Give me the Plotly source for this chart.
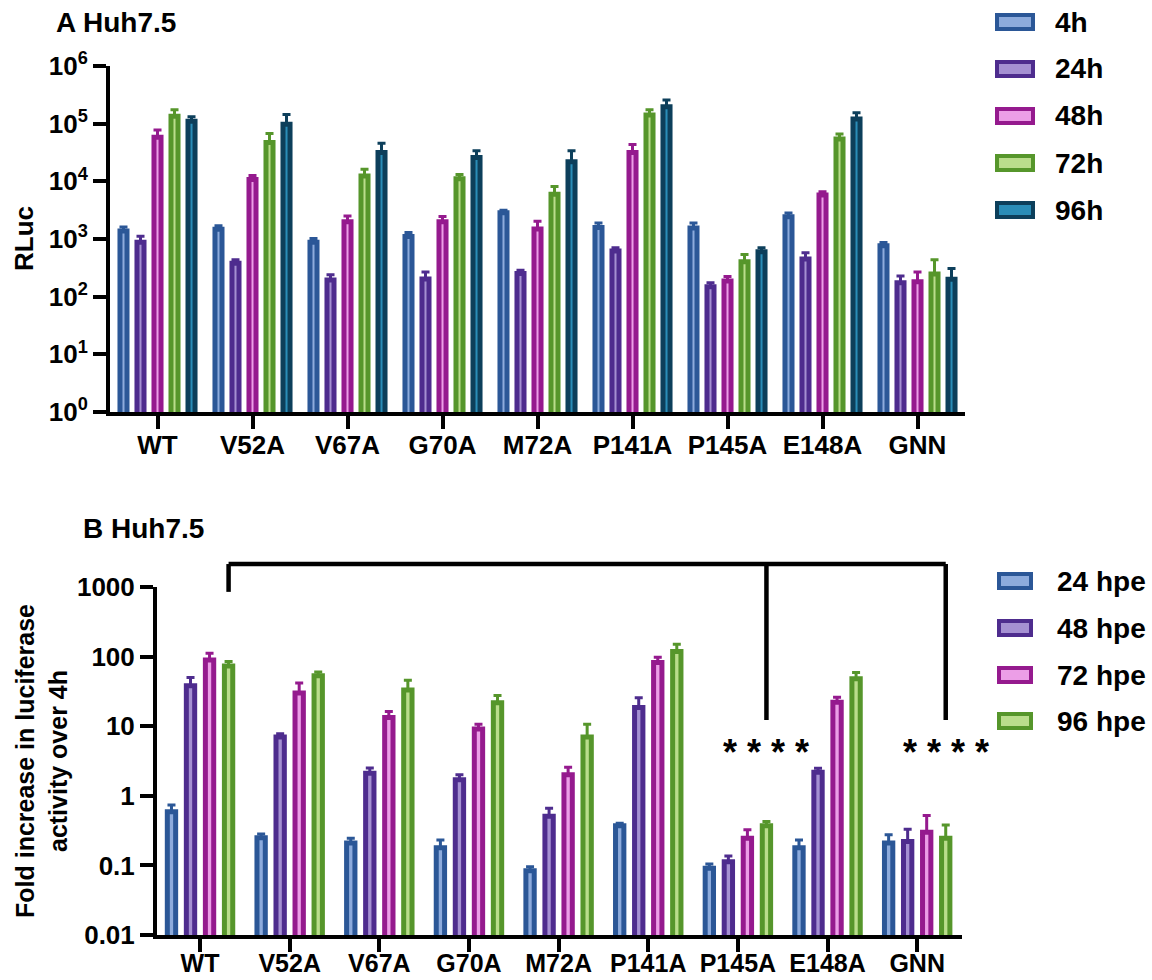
import plotly.graph_objects as go

# ---- data -------------------------------------------------------------
mutants = ["WT", "V52A", "V67A", "G70A", "M72A", "P141A", "P145A", "E148A", "GNN"]

# Panel A: RLuc signal (mean and upper SD) per time point
rluc_4h = [1380, 1480, 880, 1100, 2860, 1590, 1550, 2440, 765]
rluc_4h_sd = [240, 220, 140, 190, 300, 310, 350, 380, 105]
rluc_24h = [880, 380, 195, 203, 253, 620, 148, 450, 175]
rluc_24h_sd = [240, 57, 45, 66, 35, 88, 26, 125, 54]
rluc_48h = [58000, 10800, 2000, 2000, 1490, 31500, 187, 5770, 182]
rluc_48h_sd = [19600, 1800, 510, 450, 550, 12100, 37, 830, 87]
rluc_72h = [135000, 47000, 12400, 11100, 6000, 141000, 405, 54000, 246]
rluc_72h_sd = [39000, 20600, 3800, 2100, 2130, 33000, 132, 12100, 191]
rluc_96h = [110000, 98000, 31500, 26000, 21800, 196000, 600, 120000, 200]
rluc_96h_sd = [22000, 46500, 14200, 7900, 12100, 61000, 108, 35000, 109]

# Panel B: fold increase over 4 h
fold_24 = [0.59, 0.25, 0.21, 0.18, 0.084, 0.37, 0.091, 0.18, 0.21]
fold_24_sd = [0.15, 0.032, 0.035, 0.052, 0.012, 0.033, 0.014, 0.052, 0.065]
fold_48 = [38, 7.0, 2.1, 1.7, 0.51, 18.5, 0.113, 2.18, 0.22]
fold_48_sd = [12, 0.76, 0.41, 0.3, 0.15, 7.2, 0.023, 0.3, 0.11]
fold_72 = [89, 30, 13.3, 9.1, 2.0, 82, 0.245, 22, 0.30]
fold_72_sd = [23, 11.7, 2.9, 1.6, 0.57, 15.7, 0.079, 4.0, 0.22]
fold_96 = [73, 53, 33, 21.8, 7.0, 118, 0.37, 48, 0.245]
fold_96_sd = [12, 7.3, 12.7, 5.7, 3.7, 33, 0.057, 11, 0.135]

labels_a = ["4h", "24h", "48h", "72h", "96h"]
labels_b = ["24 hpe", "48 hpe", "72 hpe", "96 hpe"]

exp_ticks = [1, 10, 100, 1000, 10000, 100000, 1000000]
exp_text = ["10<sup>%d</sup>" % i for i in range(7)]
fold_ticks = [0.01, 0.1, 1, 10, 100, 1000]
fold_text = ["0.01", "0.1", "1", "10", "100", "1000"]

# ---- styling ----------------------------------------------------------
W, H = 1152, 980
FONT = "Liberation Sans, Arial, Helvetica, sans-serif"
edge = ["#2B5797", "#4E2C8E", "#951A8E", "#56962B", "#0D3F5B"]
fill = ["#8DABDC", "#A590D2", "#EC9EE7", "#BADD8C", "#2A8DB8"]


def px(x):
    return x / W


def py(y):
    return 1 - y / H


def bold(size):
    return dict(family=FONT, size=size, color="black", weight="bold")


fig = go.Figure()

series_a = [(rluc_4h, rluc_4h_sd), (rluc_24h, rluc_24h_sd), (rluc_48h, rluc_48h_sd),
            (rluc_72h, rluc_72h_sd), (rluc_96h, rluc_96h_sd)]
slot_a, bw_a = 0.179, 0.074
for i, (vals, sd) in enumerate(series_a):
    fig.add_trace(go.Bar(
        x=mutants, y=vals, name=labels_a[i], xaxis="x", yaxis="y",
        width=bw_a, offset=(i - 2) * slot_a - bw_a / 2,
        marker=dict(color=fill[i], line=dict(color=edge[i], width=5)),
        error_y=dict(type="data", array=sd, arrayminus=[0] * len(sd), symmetric=False,
                     color=edge[i], thickness=3, width=4),
        showlegend=False))

series_b = [(fold_24, fold_24_sd), (fold_48, fold_48_sd), (fold_72, fold_72_sd),
            (fold_96, fold_96_sd)]
slot_b, bw_b = 0.2123, 0.093
for i, (vals, sd) in enumerate(series_b):
    fig.add_trace(go.Bar(
        x=mutants, y=vals, name=labels_b[i], xaxis="x2", yaxis="y2",
        width=bw_b, offset=(i - 1.5) * slot_b - bw_b / 2,
        marker=dict(color=fill[i], line=dict(color=edge[i], width=5)),
        error_y=dict(type="data", array=sd, arrayminus=[0] * len(sd), symmetric=False,
                     color=edge[i], thickness=3, width=4),
        showlegend=False))

axis_common = dict(showline=True, linewidth=4, linecolor="black", ticks="outside",
                   ticklen=13, tickwidth=4, tickcolor="black", showgrid=False,
                   zeroline=False, automargin=False)

fig.update_layout(
    width=W, height=H, margin=dict(l=0, r=0, t=0, b=0, autoexpand=False),
    paper_bgcolor="white", plot_bgcolor="white", barmode="overlay",
    font=bold(26),
    xaxis=dict(domain=[px(110), px(965)], anchor="y", type="category",
               range=[-0.5, 8.5], ticklabelstandoff=-6, tickfont=bold(26), **axis_common),
    yaxis=dict(domain=[py(412), py(66)], anchor="x", type="log", range=[0, 6],
               tickvals=exp_ticks, ticktext=exp_text, tickfont=bold(26), **axis_common),
    xaxis2=dict(domain=[px(157), px(962)], anchor="y2", type="category",
                range=[-0.48, 8.5], ticklabelstandoff=-10, tickfont=bold(25),
                **axis_common),
    yaxis2=dict(domain=[py(935), py(587)], anchor="x2", type="log", range=[-2, 3],
                tickvals=fold_ticks, ticktext=fold_text, tickfont=bold(26), **axis_common),
)

ann = []
# panel titles
ann.append(dict(text="A Huh7.5", x=px(54), y=py(22), xanchor="left", yanchor="middle",
                font=bold(28)))
ann.append(dict(text="B Huh7.5", x=px(81), y=py(528), xanchor="left", yanchor="middle",
                font=bold(28)))
# axis titles
ann.append(dict(text="RLuc", x=px(24), y=py(239), textangle=-90,
                xanchor="center", yanchor="middle", font=bold(26)))
ann.append(dict(text="Fold increase in luciferase<br>activity over 4h", x=px(41), y=py(761),
                textangle=-90, xanchor="center", yanchor="middle", font=bold(25)))

shapes = []
# legends
leg_a_y = [22, 69, 116, 163, 210]
for i, lab in enumerate(labels_a):
    yc = leg_a_y[i]
    shapes.append(dict(type="rect", xref="paper", yref="paper",
                       x0=px(997), x1=px(1033), y0=py(yc + 7), y1=py(yc - 7),
                       line=dict(color=edge[i], width=4), fillcolor=fill[i]))
    ann.append(dict(text=lab, x=px(1053), y=py(yc), xanchor="left", yanchor="middle",
                    font=bold(28)))

leg_b_y = [581, 628, 675, 721]
for i, lab in enumerate(labels_b):
    yc = leg_b_y[i]
    shapes.append(dict(type="rect", xref="paper", yref="paper",
                       x0=px(999), x1=px(1031), y0=py(yc + 7), y1=py(yc - 7),
                       line=dict(color=edge[i], width=4), fillcolor=fill[i]))
    ann.append(dict(text=lab, x=px(1055), y=py(yc), xanchor="left", yanchor="middle",
                    font=bold(28)))

# significance bracket from WT to P145A and GNN (96 hpe bars)
off96 = 1.5 * slot_b
top_y, wt_drop, sig_drop = 1.066, 0.986, 0.618
br = dict(xref="x2", yref="y2 domain", line=dict(color="black", width=4.5))
shapes.append(dict(type="line", x0=0 + off96, x1=8 + off96, y0=top_y, y1=top_y, **br))
shapes.append(dict(type="line", x0=0 + off96, x1=0 + off96, y0=top_y, y1=wt_drop, **br))
shapes.append(dict(type="line", x0=6 + off96, x1=6 + off96, y0=top_y, y1=sig_drop, **br))
shapes.append(dict(type="line", x0=8 + off96, x1=8 + off96, y0=top_y, y1=sig_drop, **br))
for xi in (6, 8):
    ann.append(dict(text="* * * *", x=xi + off96, y=0.525, xref="x2", yref="y2 domain",
                    xanchor="center", yanchor="middle", font=bold(36)))

for a in ann:
    a.setdefault("xref", "paper")
    a.setdefault("yref", "paper")
    a.setdefault("showarrow", False)

fig.update_layout(annotations=ann, shapes=shapes)
fig.write_html("out.html")
